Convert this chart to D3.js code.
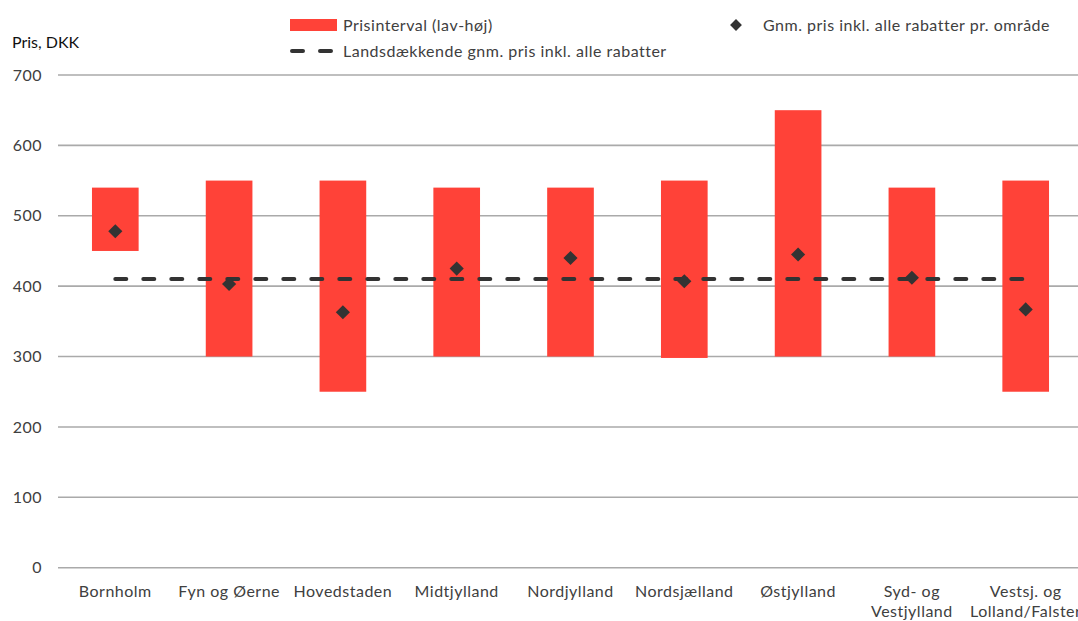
<!DOCTYPE html>
<html>
<head>
<meta charset="utf-8">
<script src="https://cdn.jsdelivr.net/npm/d3@7"></script>
<style>
  html, body { margin: 0; padding: 0; background: #fff; }
  svg { display: block; font-family: Lato, "Open Sans", sans-serif; }
</style>
</head>
<body>
<svg id="chart" width="1078" height="621"></svg>
<script>
// Regions (two-line labels split on "\n")
const regions = [
  "Bornholm", "Fyn og Øerne", "Hovedstaden", "Midtjylland", "Nordjylland",
  "Nordsjælland", "Østjylland", "Syd- og\nVestjylland", "Vestsj. og\nLolland/Falster"
];
// Price interval per region (DKK)
const lowPrice  = [450, 300, 250, 300, 300, 298, 300, 300, 250];
const highPrice = [540, 550, 550, 540, 540, 550, 650, 540, 550];
// Average price incl. all discounts per region (DKK)
const avgPrice  = [478, 403, 363, 425, 440, 407, 445, 412, 367];
// National average price incl. all discounts (DKK)
const nationalAvg = 410;
const yTicks = [0, 100, 200, 300, 400, 500, 600, 700];

const legendLabels = {
  range: "Prisinterval (lav-høj)",
  national: "Landsdækkende gnm. pris inkl. alle rabatter",
  avg: "Gnm. pris inkl. alle rabatter pr. område"
};

const svg = d3.select("#chart");
const textColor = "#404040";
const barColor = "#ff4238";
const markColor = "#333333";
const fontSize = 16;
const spacing = 0.5;

const x = d3.scaleBand().domain(regions).range([58.4, 1082.6]).paddingInner(0.59).paddingOuter(0.295);
const y = d3.scaleLinear().domain([0, 700]).range([567.7, 75]);

// Gridlines
svg.append("g").selectAll("line").data(yTicks).join("line")
  .attr("x1", 58).attr("x2", 1078)
  .attr("y1", d => y(d)).attr("y2", d => y(d))
  .attr("stroke", "#aaaaaa").attr("stroke-width", 1.6);

// Y axis labels
svg.append("g").selectAll("text").data(yTicks).join("text")
  .attr("x", 42).attr("y", d => y(d)).attr("dy", "0.35em")
  .attr("text-anchor", "end").attr("font-size", fontSize).attr("fill", textColor)
  .attr("letter-spacing", spacing)
  .text(d => d);

svg.append("text").attr("x", 12).attr("y", 48)
  .attr("font-size", fontSize).attr("fill", "#111").text("Pris, DKK");

// Range bars
svg.append("g").selectAll("rect").data(regions).join("rect")
  .attr("x", d => x(d)).attr("width", x.bandwidth())
  .attr("y", (d, i) => y(highPrice[i]))
  .attr("height", (d, i) => y(lowPrice[i]) - y(highPrice[i]))
  .attr("fill", barColor);

// National average dashed line
const cx = d => x(d) + x.bandwidth() / 2;
svg.append("line")
  .attr("x1", cx(regions[0])).attr("x2", cx(regions[regions.length - 1]))
  .attr("y1", y(nationalAvg)).attr("y2", y(nationalAvg))
  .attr("stroke", markColor).attr("stroke-width", 4)
  .attr("stroke-linecap", "round").attr("stroke-dasharray", "11,17");

// Diamonds for regional average
const diamond = d3.symbol().type(d3.symbolSquare).size(100);
svg.append("g").selectAll("path").data(regions).join("path")
  .attr("d", diamond)
  .attr("transform", (d, i) => `translate(${cx(d)},${y(avgPrice[i])}) rotate(45)`)
  .attr("fill", markColor);

// X axis labels
const xl = svg.append("g").selectAll("text").data(regions).join("text")
  .attr("x", d => cx(d)).attr("y", 597)
  .attr("text-anchor", "middle").attr("font-size", fontSize).attr("fill", textColor)
  .attr("letter-spacing", spacing);
xl.selectAll("tspan").data(d => d.split("\n")).join("tspan")
  .attr("x", function () { return d3.select(this.parentNode).attr("x"); })
  .attr("dy", (d, i) => i === 0 ? 0 : 20)
  .text(d => d);

// Legend
const lg = svg.append("g").attr("font-size", fontSize).attr("fill", textColor)
  .attr("letter-spacing", spacing);
lg.append("rect").attr("x", 290).attr("y", 19).attr("width", 47).attr("height", 12).attr("fill", barColor);
lg.append("text").attr("x", 343).attr("y", 25).attr("dy", "0.35em").text(legendLabels.range);
lg.append("line").attr("x1", 292).attr("x2", 336).attr("y1", 51).attr("y2", 51)
  .attr("stroke", markColor).attr("stroke-width", 4).attr("stroke-linecap", "round")
  .attr("stroke-dasharray", "11,17");
lg.append("text").attr("x", 343).attr("y", 51).attr("dy", "0.35em").text(legendLabels.national);
lg.append("path").attr("d", d3.symbol().type(d3.symbolSquare).size(70))
  .attr("transform", "translate(736,25) rotate(45)").attr("fill", markColor);
lg.append("text").attr("x", 763).attr("y", 25).attr("dy", "0.35em").text(legendLabels.avg);
</script>
</body>
</html>
